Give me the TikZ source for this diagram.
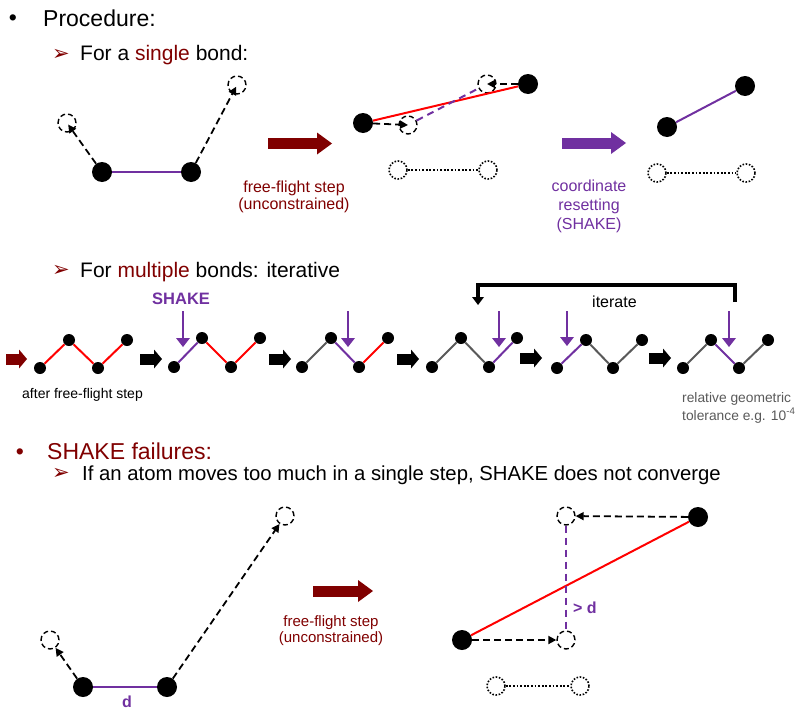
\documentclass[tikz,border=0pt]{standalone}
\usepackage{fontspec}
\setmainfont{Liberation Sans}
\newfontfamily\dingfont{DejaVu Sans}
\usepackage{tikz}
\usetikzlibrary{arrows.meta,positioning,calc}
\definecolor{maroon}{RGB}{128,0,0}
\definecolor{shakepurple}{RGB}{112,48,160}
\definecolor{bondgray}{RGB}{89,89,89}

\tikzset{
  atom/.style={circle,fill=black,inner sep=0pt,minimum size=20pt},
  smallatom/.style={circle,fill=black,inner sep=0pt,minimum size=12pt},
  ghost/.style={circle,draw,line width=1.4pt,dash pattern=on 5pt off 3pt,inner sep=0pt,minimum size=18pt},
  oldpos/.style={circle,draw,line width=1.6pt,dash pattern=on 1.6pt off 1.6pt,inner sep=0pt,minimum size=18pt},
  moveline/.style={line width=1.8pt,dash pattern=on 7pt off 4pt,-{Triangle[length=8pt,width=8pt]}},
  dotline/.style={line width=1.8pt,dash pattern=on 1.8pt off 1.8pt},
  pbond/.style={shakepurple,line width=2pt},
  rbond/.style={red,line width=2pt},
  gbond/.style={bondgray,line width=2pt},
  pdash/.style={shakepurple,line width=2pt,dash pattern=on 7pt off 5pt},
  bigarrow/.style={line width=11pt,-{Triangle[length=15pt,width=22pt,line width=0pt]}},
  stepbox/.style={line width=11pt,-{Triangle[length=8pt,width=19pt,line width=0pt]}},
  shakearrow/.style={shakepurple,line width=2.5pt,-{Triangle[length=9pt,width=14pt,line width=0pt]}},
  headtext/.style={inner sep=0pt,font=\fontsize{23}{27}\selectfont},
  subtext/.style={inner sep=0pt,font=\fontsize{21}{25}\selectfont},
  pointer/.style={inner sep=0pt,maroon,font=\dingfont\fontsize{21}{24}\selectfont},
  note/.style={inner sep=0pt,align=center},
}

\begin{document}
\begin{tikzpicture}[x=1pt,y=-1pt]
\useasboundingbox (0,0) rectangle (799,709);

% headings
\node[headtext] (bul1) at (13,20.5) {•};
\node[headtext,anchor=base west] (proc) at (43,27) {Procedure:};
\node[pointer] (ptr1) at (61,55) {➢};
\node[subtext,anchor=base west] (single) at (80,60) {For a \textcolor{maroon}{single} bond:};
\node[pointer] (ptr2) at (61,271) {➢};
\node[subtext,anchor=base west] (multi) at (80,277) {For \textcolor{maroon}{multiple} bonds: iterative};
\node[headtext,maroon] (bul2) at (20,454) {•};
\node[headtext,maroon,anchor=base west] (fail) at (47,459) {SHAKE failures:};
\node[pointer] (ptr3) at (61,474) {➢};
\node[subtext,anchor=base west,font=\fontsize{20.3}{24}\selectfont] (ifatom) at (82,480) {If an atom moves too much in a single step, SHAKE does not converge};

% single bond, before
\node[atom] (a1) at (102,172) {};
\node[atom] (a2) at (191,172) {};
\node[ghost] (g1) at (67,123) {};
\node[ghost] (g2) at (237,85) {};
\draw[pbond] (a1) -- (a2);
\draw[moveline,shorten >=2pt] (a1) -- (g1.center);
\draw[moveline,shorten >=2pt] (a2) -- (g2.center);

\draw[bigarrow,maroon] (268,143.5) -- (332,143.5);
\node[note,maroon,anchor=north,font=\fontsize{16}{17}\selectfont] (ff1) at (294,181) {free-flight step\\(unconstrained)};

% single bond, after free flight
\node[atom] (m1) at (363,123) {};
\node[atom] (m2) at (528,84) {};
\node[ghost] (h1) at (408,125) {};
\node[ghost] (h2) at (487,84) {};
\node[oldpos] (o1) at (398,170) {};
\node[oldpos] (o2) at (488,170) {};
\draw[rbond] (m1) -- (m2);
\draw[pdash] (h1) -- (h2);
\draw[moveline] (m1) -- (h1.center);
\draw[moveline] (m2) -- (h2.center);
\draw[dotline] (o1) -- (o2);

\draw[bigarrow,shakepurple] (562,143) -- (626,143);
\node[note,shakepurple,anchor=north,font=\fontsize{16}{19}\selectfont] (reset) at (589,180) {coordinate\\resetting\\(SHAKE)};

% single bond, after SHAKE
\node[atom] (r1) at (667,127) {};
\node[atom] (r2) at (745,86) {};
\node[oldpos] (p1) at (657,173) {};
\node[oldpos] (p2) at (746,173) {};
\draw[pbond] (r1) -- (r2);
\draw[dotline] (p1) -- (p2);

% multiple bonds
\node[inner sep=0pt,shakepurple,anchor=base west,font=\bfseries\fontsize{16.5}{20}\selectfont] (shk) at (152,304) {SHAKE};
\node[inner sep=0pt,anchor=base west,font=\fontsize{16}{20}\selectfont] (iter) at (592,307) {iterate};
\coordinate (it1) at (735,302);
\coordinate (it2) at (478,305);
\draw[line width=4.5pt,-{Triangle[length=8pt,width=12pt,line width=0pt]}] (it1) |- ($(it2)+(0,-20)$) -- (it2);

\draw[stepbox,maroon] (6,359) -- (27,359);
\node[smallatom] (c11) at (40,368) {};
\node[smallatom] (c12) at (69,340) {};
\node[smallatom] (c13) at (98,368) {};
\node[smallatom] (c14) at (127,340) {};
\draw[rbond] (c11) -- (c12);
\draw[rbond] (c12) -- (c13);
\draw[rbond] (c13) -- (c14);
\node[inner sep=0pt,anchor=base west,font=\fontsize{14}{16}\selectfont] (after) at (22,398) {after free-flight step};

\draw[stepbox] (140,359) -- (162,359);
\node[smallatom] (c21) at (174,367) {};
\node[smallatom] (c22) at (202,338) {};
\node[smallatom] (c23) at (231,367) {};
\node[smallatom] (c24) at (260,338) {};
\draw[pbond] (c21) -- (c22);
\draw[rbond] (c22) -- (c23);
\draw[rbond] (c23) -- (c24);
\draw[shakearrow] (183,311) -- (183,347);

\draw[stepbox] (269,359) -- (291,359);
\node[smallatom] (c31) at (302,367) {};
\node[smallatom] (c32) at (331,338) {};
\node[smallatom] (c33) at (359,367) {};
\node[smallatom] (c34) at (388,338) {};
\draw[gbond] (c31) -- (c32);
\draw[pbond] (c32) -- (c33);
\draw[rbond] (c33) -- (c34);
\draw[shakearrow] (348,311) -- (348,347);

\draw[stepbox] (397,359) -- (419,359);
\node[smallatom] (c41) at (432,367) {};
\node[smallatom] (c42) at (461,338) {};
\node[smallatom] (c43) at (489,367) {};
\node[smallatom] (c44) at (517,338) {};
\draw[gbond] (c41) -- (c42);
\draw[gbond] (c42) -- (c43);
\draw[pbond] (c43) -- (c44);
\draw[shakearrow] (499,311) -- (499,347);

\draw[stepbox] (520,358) -- (542,358);
\node[smallatom] (c51) at (557,368) {};
\node[smallatom] (c52) at (586,340) {};
\node[smallatom] (c53) at (613,368) {};
\node[smallatom] (c54) at (642,340) {};
\draw[pbond] (c51) -- (c52);
\draw[gbond] (c52) -- (c53);
\draw[gbond] (c53) -- (c54);
\draw[shakearrow] (567,311) -- (567,346);

\draw[stepbox] (649,358) -- (671,358);
\node[smallatom] (c61) at (683,368) {};
\node[smallatom] (c62) at (711,340) {};
\node[smallatom] (c63) at (739,368) {};
\node[smallatom] (c64) at (768,340) {};
\draw[gbond] (c61) -- (c62);
\draw[pbond] (c62) -- (c63);
\draw[gbond] (c63) -- (c64);
\draw[shakearrow] (729,311) -- (729,347);
\node[note,align=left,anchor=north west,bondgray,font=\fontsize{13.8}{18}\selectfont] (tol) at (682,392) {relative geometric\\tolerance e.g. 10\textsuperscript{-4}};

% failure, before
\node[atom] (b1) at (83,687) {};
\node[atom] (b2) at (167,687) {};
\node[ghost] (bg1) at (50,640) {};
\node[ghost] (bg2) at (285,516) {};
\draw[pbond] (b1) -- (b2);
\draw[moveline] (b1) -- (bg1);
\draw[moveline] (b2) -- (bg2);
\node[inner sep=0pt,anchor=base,shakepurple,font=\bfseries\fontsize{16}{18}\selectfont] (dlab) at (127,707) {d};

\draw[bigarrow,maroon] (313,591) -- (373,591);
\node[note,maroon,anchor=north,font=\fontsize{15}{16.5}\selectfont] (ff2) at (331,615) {free-flight step\\(unconstrained)};

% failure, after free flight
\node[atom] (s1) at (462,640) {};
\node[atom] (s2) at (698,517) {};
\node[ghost] (t1) at (566,640) {};
\node[ghost] (t2) at (566,516) {};
\node[oldpos] (q1) at (496,686) {};
\node[oldpos] (q2) at (580,686) {};
\draw[rbond] (s1) -- (s2);
\draw[pdash] (t2) -- (t1);
\draw[moveline] (s1) -- (t1);
\draw[moveline] (s2) -- (t2);
\draw[dotline] (q1) -- (q2);
\node[inner sep=0pt,anchor=base west,shakepurple,font=\bfseries\fontsize{16}{18}\selectfont] (gtd) at (573,613) {> d};
\end{tikzpicture}
\end{document}
